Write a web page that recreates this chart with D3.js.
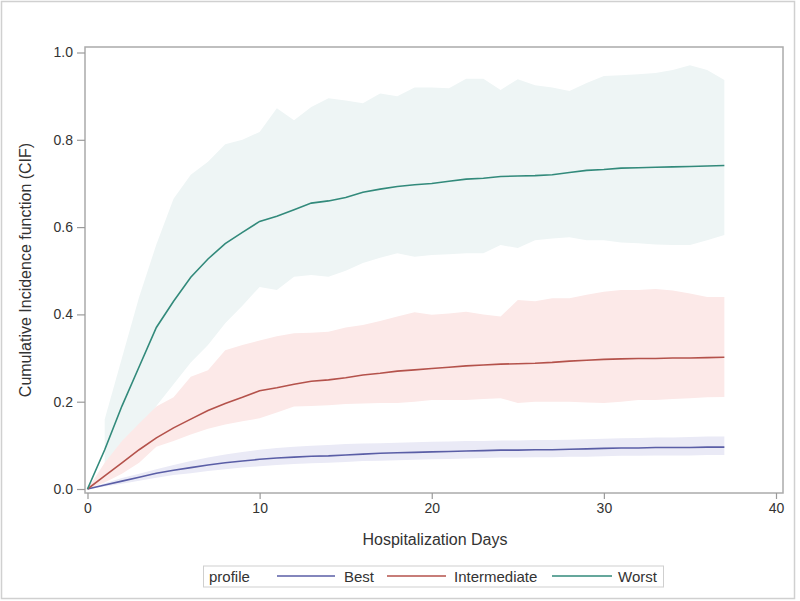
<!DOCTYPE html>
<html><head><meta charset="utf-8">
<script src="https://cdn.jsdelivr.net/npm/d3@7"></script>
<style>body{margin:0;background:#fff;} svg{display:block;font-family:"Liberation Sans",Arial,sans-serif;}</style>
</head><body>
<script>
const days = d3.range(0, 38);
const seriesNames = ["Best", "Intermediate", "Worst"];
const best = [0,0.009,0.018,0.027,0.036,0.043,0.049,0.055,0.060,0.064,0.068,0.071,0.073,0.075,0.076,0.078,0.080,0.082,0.083,0.084,0.085,0.086,0.087,0.088,0.089,0.089,0.090,0.090,0.091,0.092,0.093,0.094,0.094,0.095,0.095,0.095,0.096,0.096];
const bestHi = [0,0.013,0.025,0.035,0.045,0.055,0.064,0.072,0.079,0.085,0.090,0.094,0.097,0.099,0.101,0.103,0.104,0.105,0.106,0.107,0.108,0.109,0.110,0.110,0.111,0.111,0.112,0.112,0.113,0.114,0.115,0.116,0.117,0.118,0.118,0.119,0.120,0.120];
const bestLo = [0,0.006,0.012,0.019,0.026,0.032,0.036,0.041,0.045,0.049,0.052,0.055,0.057,0.059,0.060,0.062,0.064,0.065,0.066,0.067,0.068,0.069,0.070,0.071,0.072,0.072,0.073,0.073,0.074,0.074,0.075,0.076,0.076,0.077,0.077,0.077,0.078,0.078];
const inter = [0,0.030,0.060,0.090,0.117,0.140,0.160,0.180,0.196,0.210,0.225,0.232,0.240,0.247,0.250,0.255,0.261,0.265,0.270,0.273,0.276,0.279,0.282,0.284,0.286,0.287,0.288,0.290,0.293,0.295,0.297,0.298,0.299,0.299,0.300,0.300,0.301,0.302];
const interHi = [0,0.060,0.110,0.150,0.189,0.210,0.257,0.272,0.318,0.330,0.340,0.350,0.357,0.358,0.360,0.370,0.376,0.385,0.395,0.405,0.399,0.402,0.406,0.400,0.395,0.433,0.430,0.437,0.437,0.445,0.452,0.456,0.456,0.458,0.455,0.448,0.440,0.440];
const interLo = [0,0.015,0.035,0.060,0.097,0.110,0.125,0.138,0.148,0.155,0.162,0.175,0.189,0.190,0.192,0.195,0.196,0.197,0.197,0.200,0.204,0.204,0.204,0.206,0.208,0.197,0.200,0.200,0.200,0.198,0.197,0.200,0.204,0.204,0.206,0.208,0.210,0.211];
const worst = [0,0.090,0.190,0.280,0.370,0.430,0.485,0.527,0.562,0.588,0.613,0.625,0.640,0.655,0.660,0.668,0.680,0.687,0.693,0.697,0.700,0.705,0.710,0.712,0.716,0.717,0.718,0.720,0.725,0.730,0.732,0.735,0.736,0.737,0.738,0.739,0.740,0.741];
const worstHi = [null,0.160,0.300,0.440,0.560,0.665,0.720,0.750,0.790,0.800,0.818,0.872,0.845,0.875,0.895,0.890,0.884,0.906,0.900,0.920,0.920,0.918,0.940,0.940,0.914,0.939,0.925,0.920,0.912,0.930,0.946,0.948,0.950,0.953,0.960,0.971,0.960,0.937];
const worstLo = [null,0.030,0.080,0.130,0.190,0.240,0.290,0.330,0.380,0.420,0.463,0.456,0.486,0.490,0.486,0.500,0.518,0.530,0.540,0.532,0.536,0.538,0.540,0.540,0.559,0.552,0.570,0.574,0.577,0.570,0.570,0.565,0.563,0.560,0.559,0.559,0.570,0.582];
const xTicks = [0, 10, 20, 30, 40];
const yTicks = [0, 0.2, 0.4, 0.6, 0.8, 1.0];

const W = 800, H = 601;
const FONT = '"Liberation Sans",Arial,sans-serif';
const svg = d3.select("body").append("svg").attr("width", W).attr("height", H);
svg.append("rect").attr("x",1.5).attr("y",1.5).attr("width",793).attr("height",597)
  .attr("fill","#fff").attr("stroke","#d0d0d0").attr("stroke-width",1.5);

const x = d3.scaleLinear().domain([0, 40]).range([87.5, 776]);
const y = d3.scaleLinear().domain([0, 1]).range([489, 52.5]);

const series = [
  {name:"Best", v:best, lo:bestLo, hi:bestHi, line:"#5a5ea6", band:"#eaeaf6"},
  {name:"Intermediate", v:inter, lo:interLo, hi:interHi, line:"#b4524b", band:"#fce9e8"},
  {name:"Worst", v:worst, lo:worstLo, hi:worstHi, line:"#328a7b", band:"#eef5f5"}
];

const g = svg.append("g");
[series[2], series[1], series[0]].forEach(s => {
  const area = d3.area()
    .defined((d,i) => s.lo[i] !== null && s.hi[i] !== null)
    .x((d,i) => x(days[i])).y0((d,i) => y(s.lo[i])).y1((d,i) => y(s.hi[i]));
  g.append("path").datum(days).attr("d", area).attr("fill", s.band);
});
series.forEach(s => {
  const line = d3.line().x((d,i) => x(days[i])).y((d,i) => y(s.v[i]));
  g.append("path").datum(days).attr("d", line).attr("fill","none")
    .attr("stroke", s.line).attr("stroke-width",1.6);
});

svg.append("rect").attr("x",85).attr("y",47).attr("width",698).attr("height",446)
  .attr("fill","none").attr("stroke","#ababab").attr("stroke-width",1.5);

const xAxis = d3.axisBottom(x).tickValues(xTicks).tickFormat(d3.format("d")).tickSize(6).tickPadding(4);
const xg = svg.append("g").attr("transform","translate(0,493)").call(xAxis);
const yAxis = d3.axisLeft(y).tickValues(yTicks).tickFormat(d3.format(".1f")).tickSize(8).tickPadding(4);
const yg = svg.append("g").attr("transform","translate(85,0)").call(yAxis);
[xg, yg].forEach(a => {
  a.select(".domain").remove();
  a.selectAll(".tick line").attr("stroke","#9a9a9a").attr("stroke-width",1.2);
  a.selectAll(".tick text").attr("fill","#333").style("font-size","14px").style("font-family",FONT);
});

svg.append("text").attr("x",435).attr("y",545).attr("text-anchor","middle")
  .attr("fill","#333").style("font-size","16px").text("Hospitalization Days");
svg.append("text").attr("transform","translate(31,270) rotate(-90)").attr("text-anchor","middle")
  .attr("fill","#333").style("font-size","16px").text("Cumulative Incidence function (CIF)");

const lg = svg.append("g");
lg.append("rect").attr("x",203.5).attr("y",566).attr("width",460).attr("height",21)
  .attr("fill","#fff").attr("stroke","#cfcfcf").attr("stroke-width",1);
lg.append("text").attr("x",209).attr("y",581.5).attr("fill","#333").style("font-size","15px").text("profile");
const legItems = [
  {x1:277, x2:335, tx:344},
  {x1:387, x2:446, tx:454},
  {x1:552, x2:612, tx:618}
];
series.forEach((s,i) => {
  const it = legItems[i];
  lg.append("line").attr("x1",it.x1).attr("x2",it.x2).attr("y1",576).attr("y2",576)
    .attr("stroke",s.line).attr("stroke-width",1.6);
  lg.append("text").attr("x",it.tx).attr("y",581.5).attr("fill","#333").style("font-size","15px").text(s.name);
});
</script>
</body></html>
